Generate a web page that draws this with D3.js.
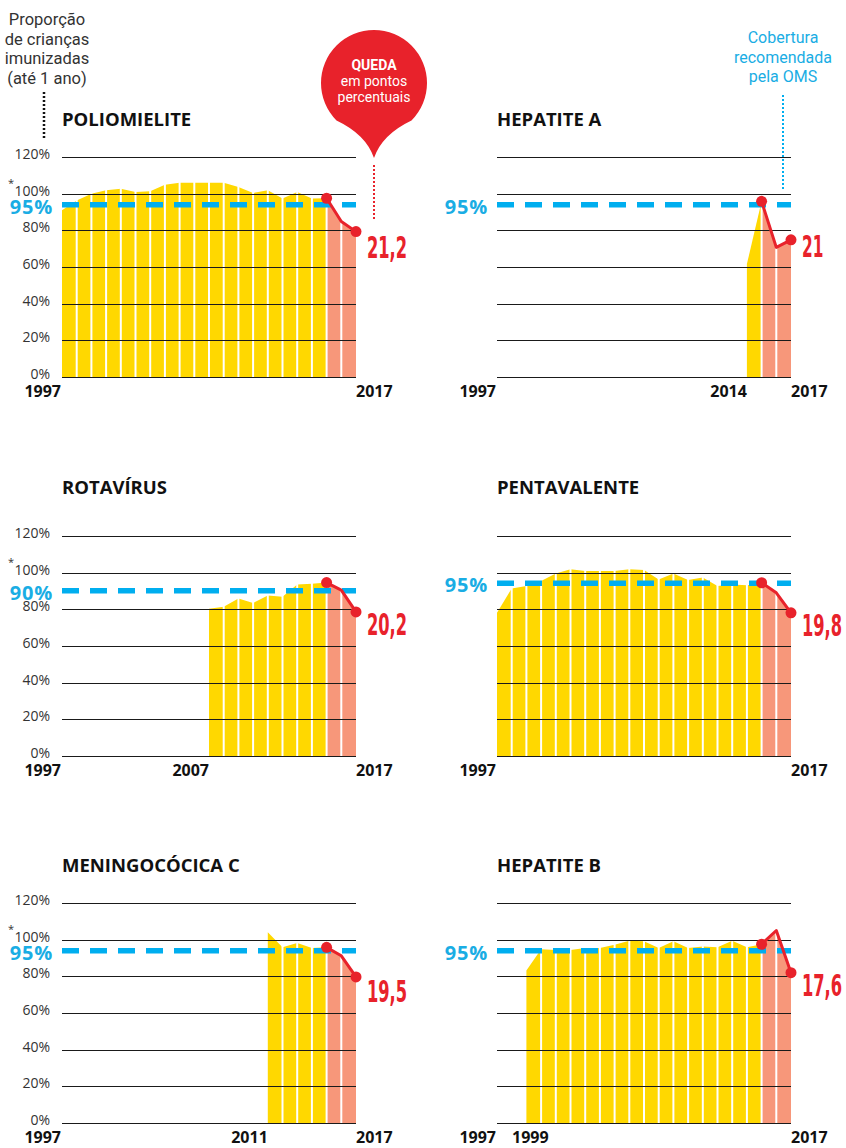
<!DOCTYPE html>
<html>
<head>
<meta charset="utf-8">
<script src="https://cdn.jsdelivr.net/npm/d3@7"></script>
<style>
  body { margin: 0; background: #fff; }
  svg { display: block; background: #fff; }
</style>
</head>
<body>
<svg id="chart"></svg>
<script>
// years on the x axis (shared by every panel)
const years = [1997, 1998, 1999, 2000, 2001, 2002, 2003, 2004, 2005, 2006, 2007,
               2008, 2009, 2010, 2011, 2012, 2013, 2014, 2015, 2016, 2017];

// coverage (%), null = vaccine not yet in the calendar
const poliomielite = [90.9, 96.3, 100, 101.8, 102.7, 100.9, 101.3, 104.9, 105.9, 106, 106,
                      105.9, 103.7, 100.4, 101.8, 97.3, 100.9, 97.3, 97.5, 84.8, 79.3];
const hepatiteA = [null, null, null, null, null, null, null, null, null, null, null,
                   null, null, null, null, null, null, 61.6, 95.8, 70.7, 74.8];
const rotavirus = [null, null, null, null, null, null, null, null, null, null, 80.3,
                   81.4, 85.9, 83.5, 87.6, 86.8, 93.6, 94.0, 94.6, 90.5, 78.6];
const pentavalente = [78.1, 91.4, 92.7, 95.4, 99.6, 101.8, 100.9, 100.9, 100.9, 101.8, 101.5,
                      96.3, 99.6, 96.0, 97.3, 92.7, 93.6, 93.1, 94.5, 89.0, 78.1];
const meningococica = [null, null, null, null, null, null, null, null, null, null, null,
                       null, null, null, 104, 95.8, 98.2, 95.4, 95.8, 91.2, 79.7];
const hepatiteB = [null, null, 83.2, 94.8, 94.3, 94.3, 95.4, 95.4, 97.2, 99.4, 99.1,
                   95.4, 99.1, 95.4, 96.3, 95.8, 99.4, 95.8, 97.5, 105, 82.0];

const titles = ['POLIOMIELITE', 'HEPATITE A', 'ROTAVÍRUS', 'PENTAVALENTE', 'MENINGOCÓCICA C', 'HEPATITE B'];
const targetLabels = ['95%', '95%', '90%', '95%', '95%', '95%'];
// where the dashed line actually sits in the picture
const targetLines = [94, 94, 90.2, 94.2, 94, 94];
const drops = ['21,2', '21', '20,2', '19,8', '19,5', '17,6'];
const xLabels = [[1997, 2017], [1997, 2014, 2017], [1997, 2007, 2017],
                 [1997, 2017], [1997, 2011, 2017], [1997, 1999, 2017]];
const yTicks = [0, 20, 40, 60, 80, 100, 120];
const yTickLabels = ['0%', '20%', '40%', '60%', '80%', '100%', '120%'];
const dropYear = 2015;

const YELLOW = '#ffd800', SALMON = '#f7977a', RED = '#e8222b', BLUE = '#00aeef';

const svg = d3.select('#chart')
    .attr('width', 846)
    .attr('height', 1148);

class CoverageChart {

  constructor(_config, _data) {
    this.config = {
      svg: _config.svg,
      title: _config.title,
      left: _config.left,
      top: _config.top,
      titleY: _config.titleY,
      target: _config.target,
      targetLabel: _config.targetLabel,
      drop: _config.drop,
      xLabels: _config.xLabels,
      showYAxis: _config.showYAxis,
      labelDy: _config.labelDy || 23,
      width: 294,
      height: 220
    }
    this.data = years.map((y, i) => ({ year: y, value: _data[i] })).filter(d => d.value != null);
    this.initVis();
  }

  initVis() {
    let vis = this;
    vis.width = vis.config.width;
    vis.height = vis.config.height;

    vis.xScale = d3.scaleLinear()
        .domain([years[0], years[years.length - 1]])
        .range([0, vis.width]);
    vis.yScale = d3.scaleLinear()
        .domain([0, 120])
        .range([vis.height, 0]);

    vis.chart = vis.config.svg.append('g')
        .attr('transform', `translate(${vis.config.left},${vis.config.top})`);

    vis.config.svg.append('text')
        .attr('x', vis.config.left)
        .attr('y', vis.config.titleY)
        .attr('font-family', '"Open Sans", sans-serif')
        .attr('font-weight', 700)
        .attr('font-size', 18.5)
        .attr('fill', '#111')
        .text(vis.config.title);

    vis.updateVis();
  }

  updateVis() {
    let vis = this;
    const x = vis.xScale, y = vis.yScale;

    const area = d3.area()
        .x(d => x(d.year))
        .y0(vis.height)
        .y1(d => y(d.value));

    // yellow part up to 2015, salmon after
    vis.chart.append('path')
        .datum(vis.data.filter(d => d.year <= dropYear))
        .attr('d', area)
        .attr('fill', YELLOW);
    vis.chart.append('path')
        .datum(vis.data.filter(d => d.year >= dropYear))
        .attr('d', area)
        .attr('fill', SALMON);

    // white separators that cut the area into yearly bars
    vis.chart.selectAll('line.sep')
        .data(vis.data.slice(1, -1))
      .join('line')
        .attr('class', 'sep')
        .attr('x1', d => x(d.year))
        .attr('x2', d => x(d.year))
        .attr('y1', vis.height)
        .attr('y2', d => y(d.value) - 4)
        .attr('stroke', '#fff')
        .attr('stroke-width', 2);

    // gridlines on top of the bars
    vis.chart.selectAll('line.grid')
        .data(yTicks)
      .join('line')
        .attr('class', 'grid')
        .attr('x1', 0)
        .attr('x2', vis.width)
        .attr('y1', d => Math.round(y(d)) + 0.5)
        .attr('y2', d => Math.round(y(d)) + 0.5)
        .attr('stroke', '#1a1a1a')
        .attr('stroke-width', 1);

    if (vis.config.showYAxis) {
      vis.chart.selectAll('text.ylab')
          .data(yTicks)
        .join('text')
          .attr('class', 'ylab')
          .attr('x', -12)
          .attr('y', d => y(d) + 2)
          .attr('text-anchor', 'end')
          .attr('font-family', '"Open Sans", sans-serif')
          .attr('font-size', 14)
          .attr('fill', '#333')
          .text((d, i) => yTickLabels[i]);
      vis.chart.append('text')
          .attr('x', -54)
          .attr('y', y(100) - 7)
          .attr('font-family', '"Open Sans", sans-serif')
          .attr('font-size', 11)
          .attr('fill', '#333')
          .text('*');
    }

    // recommended coverage
    vis.chart.append('line')
        .attr('x1', 0)
        .attr('x2', vis.width)
        .attr('y1', y(vis.config.target))
        .attr('y2', y(vis.config.target))
        .attr('stroke', BLUE)
        .attr('stroke-width', 5.5)
        .attr('stroke-dasharray', '17,11');
    vis.chart.append('text')
        .attr('x', -9)
        .attr('y', y(vis.config.target) + 9)
        .attr('text-anchor', 'end')
        .attr('font-family', '"Open Sans", sans-serif')
        .attr('font-weight', 700)
        .attr('font-size', 20)
        .attr('letter-spacing', 0.8)
        .attr('fill', '#1aade4')
        .text(vis.config.targetLabel);

    // drop since 2015
    const tail = vis.data.filter(d => d.year >= dropYear);
    vis.chart.append('path')
        .datum(tail)
        .attr('d', d3.line().x(d => x(d.year)).y(d => y(d.value)))
        .attr('fill', 'none')
        .attr('stroke', RED)
        .attr('stroke-width', 3)
        .attr('stroke-linejoin', 'round');
    vis.chart.selectAll('circle.dot')
        .data([tail[0], tail[tail.length - 1]])
      .join('circle')
        .attr('class', 'dot')
        .attr('cx', d => x(d.year))
        .attr('cy', d => y(d.value))
        .attr('r', 5.5)
        .attr('fill', RED);

    const last = tail[tail.length - 1];
    const digits = vis.config.drop.replace(',', '').length;
    const commas = vis.config.drop.length - digits;
    vis.chart.append('text')
        .attr('x', vis.width + 11)
        .attr('y', y(last.value) + vis.config.labelDy)
        .attr('font-family', '"DejaVu Sans Condensed", "Liberation Sans Narrow", sans-serif')
        .attr('font-weight', 700)
        .attr('font-size', 30)
        .attr('textLength', digits * 10.7 + commas * 8)
        .attr('lengthAdjust', 'spacingAndGlyphs')
        .attr('fill', RED)
        .text(vis.config.drop);

    // year labels
    const labs = vis.config.xLabels;
    vis.chart.selectAll('text.xlab')
        .data(labs)
      .join('text')
        .attr('class', 'xlab')
        .attr('y', vis.height + 20)
        .attr('x', (d, i) => {
          if (i === 0) return -1;
          if (i === labs.length - 1) return vis.width;
          return x(d) < 50 ? 15 : x(d);
        })
        .attr('text-anchor', (d, i) => {
          if (i === labs.length - 1) return 'start';
          if (i > 0 && x(d) < 50) return 'start';
          return 'end';
        })
        .attr('font-family', '"Open Sans", sans-serif')
        .attr('font-weight', 700)
        .attr('font-size', 16)
        .attr('fill', '#111')
        .text(d => d);
  }
}

const series = [poliomielite, hepatiteA, rotavirus, pentavalente, meningococica, hepatiteB];
const colLeft = [62, 497];
const rowTop = [157, 536, 903];
const rowTitle = [126, 494, 872];
const dropDy = [26, 17, 23, 23, 25, 23];

series.forEach((s, i) => {
  const col = i % 2, row = Math.floor(i / 2);
  new CoverageChart({
    svg: svg,
    title: titles[i],
    left: colLeft[col],
    top: rowTop[row],
    titleY: rowTitle[row],
    target: targetLines[i],
    targetLabel: targetLabels[i],
    drop: drops[i],
    xLabels: xLabels[i],
    showYAxis: col === 0,
    labelDy: dropDy[i]
  }, s);
});

// annotation: y axis meaning
const note = svg.append('text')
    .attr('text-anchor', 'middle')
    .attr('font-family', 'Roboto, sans-serif')
    .attr('font-size', 16.5)
    .attr('fill', '#333');
['Proporção', 'de crianças', 'imunizadas', '(até 1 ano)'].forEach((t, i) => {
  note.append('tspan').attr('x', 47).attr('y', 25 + i * 19.7).text(t);
});
svg.append('line')
    .attr('x1', 44).attr('x2', 44)
    .attr('y1', 92).attr('y2', 138)
    .attr('stroke', '#111')
    .attr('stroke-width', 2.5)
    .attr('stroke-dasharray', '2,2');

// annotation: WHO recommended coverage
const oms = svg.append('text')
    .attr('text-anchor', 'middle')
    .attr('font-family', 'Roboto, sans-serif')
    .attr('font-size', 16)
    .attr('fill', '#1aade4');
['Cobertura', 'recomendada', 'pela OMS'].forEach((t, i) => {
  oms.append('tspan').attr('x', 783).attr('y', 43 + i * 19.5).text(t);
});
svg.append('line')
    .attr('x1', 783).attr('x2', 783)
    .attr('y1', 95).attr('y2', 189)
    .attr('stroke', BLUE)
    .attr('stroke-width', 2)
    .attr('stroke-dasharray', '2,2');

// red balloon "QUEDA em pontos percentuais"
const cx = 374, cy = 83, r = 53, tipY = 158;
const a = Math.acos(r / (tipY - cy));
const tx = r * Math.sin(a), ty = cy + r * Math.cos(a);
svg.append('path')
    .attr('d', `M${cx},${tipY} Q${cx - 8},${ty + 14} ${cx - tx},${ty} A${r},${r} 0 1 1 ${cx + tx},${ty} Q${cx + 8},${ty + 14} ${cx},${tipY} Z`)
    .attr('fill', RED);
const balloon = svg.append('text')
    .attr('text-anchor', 'middle')
    .attr('font-family', 'Roboto, sans-serif')
    .attr('font-size', 14)
    .attr('fill', '#fff');
balloon.append('tspan').attr('x', cx).attr('y', 70).attr('font-weight', 700).text('QUEDA');
balloon.append('tspan').attr('x', cx).attr('y', 86).text('em pontos');
balloon.append('tspan').attr('x', cx).attr('y', 102).text('percentuais');
svg.append('line')
    .attr('x1', cx).attr('x2', cx)
    .attr('y1', 165).attr('y2', 221)
    .attr('stroke', RED)
    .attr('stroke-width', 2)
    .attr('stroke-dasharray', '2,2');
</script>
</body>
</html>
